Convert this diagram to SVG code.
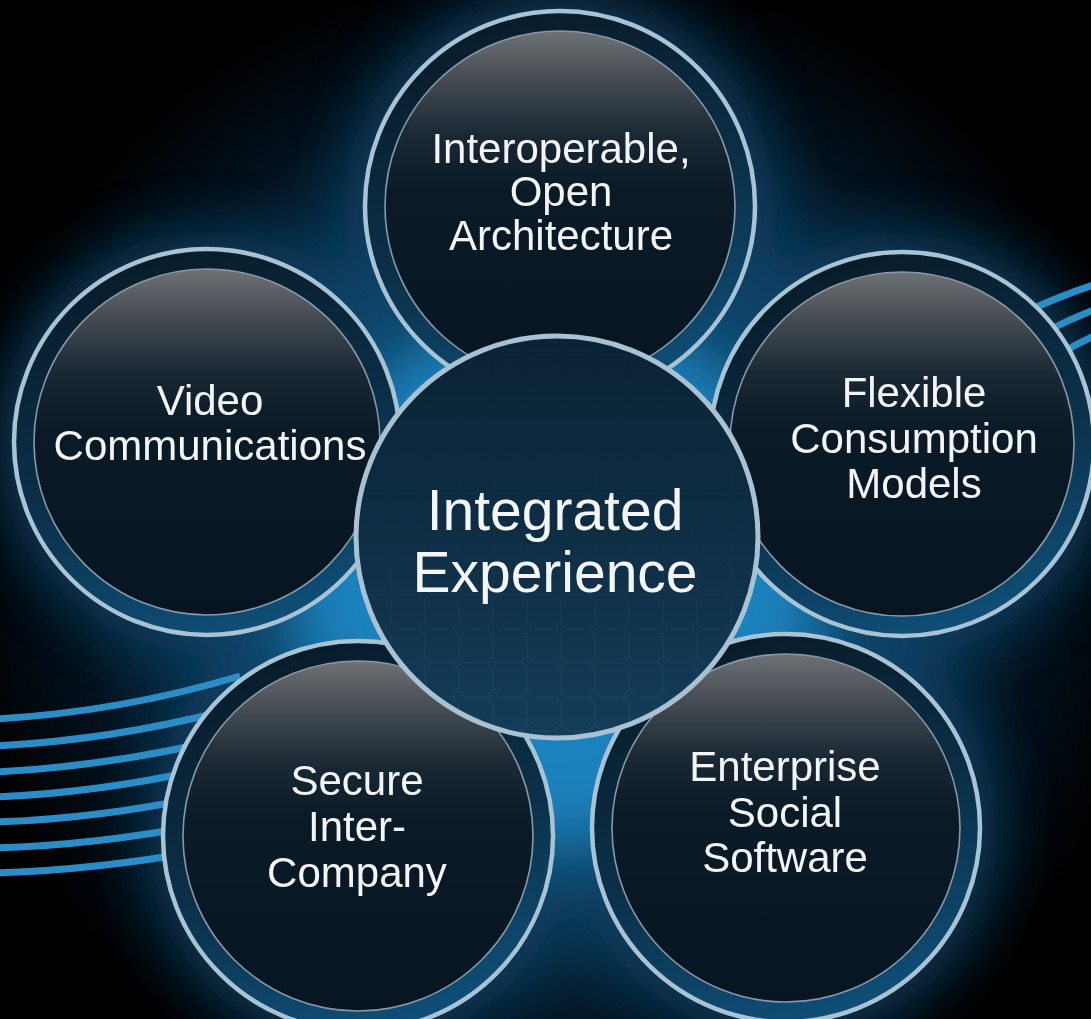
<svg xmlns="http://www.w3.org/2000/svg" width="1091" height="1019" viewBox="0 0 1091 1019">
  <defs>
    <radialGradient id="bgGlow" cx="555" cy="560" r="600" gradientUnits="userSpaceOnUse">
      <stop offset="0" stop-color="#2590cc"/>
      <stop offset="0.38" stop-color="#17679a"/>
      <stop offset="0.6" stop-color="#0a3350"/>
      <stop offset="0.8" stop-color="#03121e"/>
      <stop offset="1" stop-color="#000000"/>
    </radialGradient>
    <linearGradient id="innerFill" x1="0" y1="0" x2="0" y2="1">
      <stop offset="0" stop-color="#6e7276"/>
      <stop offset="0.12" stop-color="#4a5056"/>
      <stop offset="0.3" stop-color="#192833"/>
      <stop offset="0.46" stop-color="#0a1a26"/>
      <stop offset="1" stop-color="#061521"/>
    </linearGradient>
    <linearGradient id="bandFill" x1="0.3" y1="0" x2="0.6" y2="1">
      <stop offset="0" stop-color="#081b29"/>
      <stop offset="0.55" stop-color="#0b3049"/>
      <stop offset="1" stop-color="#0f4f78"/>
    </linearGradient>
    <linearGradient id="coreFill" x1="0" y1="0" x2="0" y2="1">
      <stop offset="0" stop-color="#0b2335"/>
      <stop offset="0.5" stop-color="#0e2e44"/>
      <stop offset="1" stop-color="#143d59"/>
    </linearGradient>
    <linearGradient id="puzzleFade" x1="0" y1="0" x2="0" y2="1">
      <stop offset="0" stop-color="#fff" stop-opacity="0"/>
      <stop offset="0.5" stop-color="#fff" stop-opacity="0.05"/>
      <stop offset="1" stop-color="#fff" stop-opacity="0.45"/>
    </linearGradient>
    <mask id="puzzleMask" maskUnits="userSpaceOnUse" x="355" y="335" width="404" height="404">
      <rect x="355" y="335" width="404" height="404" fill="url(#puzzleFade)"/>
    </mask>
    <pattern id="puzzle" width="34" height="34" patternUnits="userSpaceOnUse">
      <path d="M0 17 H12 a5 5 0 1 1 10 0 H34 M17 0 V12 a5 5 0 1 0 0 10 V34" fill="none" stroke="#2a5877" stroke-width="1.2"/>
    </pattern>
    <filter id="haze" x="-50%" y="-50%" width="200%" height="200%">
      <feGaussianBlur stdDeviation="30"/>
    </filter>
    <filter id="soft" x="-10%" y="-10%" width="120%" height="120%">
      <feGaussianBlur stdDeviation="0.6"/>
    </filter>
  </defs>
  <style>
    .ring { fill: url(#bandFill); stroke: #a8c3d4; stroke-width: 4.5; }
    .inner { fill: url(#innerFill); stroke: #8799a6; stroke-width: 1.6; }
    .core { fill: url(#coreFill); stroke: #a9c2d2; stroke-width: 5; }
    .halo { fill: #0c4266; }
    .stripe { fill: none; stroke: #2b8dc6; stroke-width: 7; stroke-linecap: butt; }
    .lbl { font-family: "Liberation Sans", Arial, sans-serif; font-size: 42px; fill: #f3f5f7; text-anchor: middle; }
    .lblc { font-family: "Liberation Sans", Arial, sans-serif; font-size: 57px; fill: #f3f5f7; text-anchor: middle; }
  </style>

  <!-- background -->
  <rect x="0" y="0" width="1091" height="1019" fill="#000"/>
  <rect x="0" y="0" width="1091" height="1019" fill="url(#bgGlow)"/>
  <g filter="url(#haze)" opacity="0.85">
    <circle class="halo" cx="560" cy="206" r="215"/>
    <circle class="halo" cx="207" cy="442" r="210"/>
    <circle class="halo" cx="902" cy="444" r="210"/>
    <circle class="halo" cx="358" cy="836" r="212"/>
    <circle class="halo" cx="786" cy="828" r="212"/>
    <circle cx="557" cy="580" r="260" fill="#1f86c2"/>
  </g>

  <!-- decorative stripes (connectors group) -->
  <g id="connectors">
    <path class="stripe" d="M-5 719 Q120 712 240 676"/>
    <path class="stripe" d="M-5 746 Q110 740 220 712"/>
    <path class="stripe" d="M-5 772 Q100 767 210 742"/>
    <path class="stripe" d="M-5 797 Q95 793 200 770"/>
    <path class="stripe" d="M-5 822 Q95 819 200 797"/>
    <path class="stripe" d="M-5 848 Q95 845 200 825"/>
    <path class="stripe" d="M-5 873 Q95 870 200 851"/>
    <path class="stripe" d="M1030 310 Q1060 296 1096 284"/>
    <path class="stripe" d="M1045 332 Q1070 319 1096 309"/>
    <path class="stripe" d="M1060 354 Q1078 343 1096 335"/>
  </g>

  <g id="node-interoperable">
    <circle class="ring" cx="560" cy="206" r="195"/>
    <circle class="inner" cx="560" cy="206" r="175"/>
    <text class="lbl" filter="url(#soft)"><tspan x="561" y="163">Interoperable,</tspan><tspan x="561" y="206">Open</tspan><tspan x="561" y="250">Architecture</tspan></text>
  </g>

  <g id="node-video">
    <circle class="ring" cx="207" cy="442" r="193"/>
    <circle class="inner" cx="207" cy="442" r="173"/>
    <text class="lbl" filter="url(#soft)"><tspan x="210" y="415">Video</tspan><tspan x="210" y="460">Communications</tspan></text>
  </g>

  <g id="node-flexible">
    <circle class="ring" cx="902" cy="444" r="192"/>
    <circle class="inner" cx="902" cy="444" r="172"/>
    <text class="lbl" filter="url(#soft)"><tspan x="914" y="407">Flexible</tspan><tspan x="914" y="453">Consumption</tspan><tspan x="914" y="498">Models</tspan></text>
  </g>

  <g id="node-secure">
    <circle class="ring" cx="358" cy="836" r="195"/>
    <circle class="inner" cx="358" cy="836" r="175"/>
    <text class="lbl" filter="url(#soft)"><tspan x="357" y="795">Secure</tspan><tspan x="357" y="841">Inter-</tspan><tspan x="357" y="887">Company</tspan></text>
  </g>

  <g id="node-enterprise">
    <circle class="ring" cx="786" cy="828" r="194"/>
    <circle class="inner" cx="786" cy="828" r="174"/>
    <text class="lbl" filter="url(#soft)"><tspan x="785" y="781">Enterprise</tspan><tspan x="785" y="827">Social</tspan><tspan x="785" y="872">Software</tspan></text>
  </g>

  <g id="node-integrated">
    <circle class="core" cx="557" cy="537" r="201"/>
    <circle cx="557" cy="537" r="198" fill="url(#puzzle)" mask="url(#puzzleMask)"/>
    <text class="lblc" filter="url(#soft)"><tspan x="555" y="530">Integrated</tspan><tspan x="555" y="592">Experience</tspan></text>
  </g>
</svg>
